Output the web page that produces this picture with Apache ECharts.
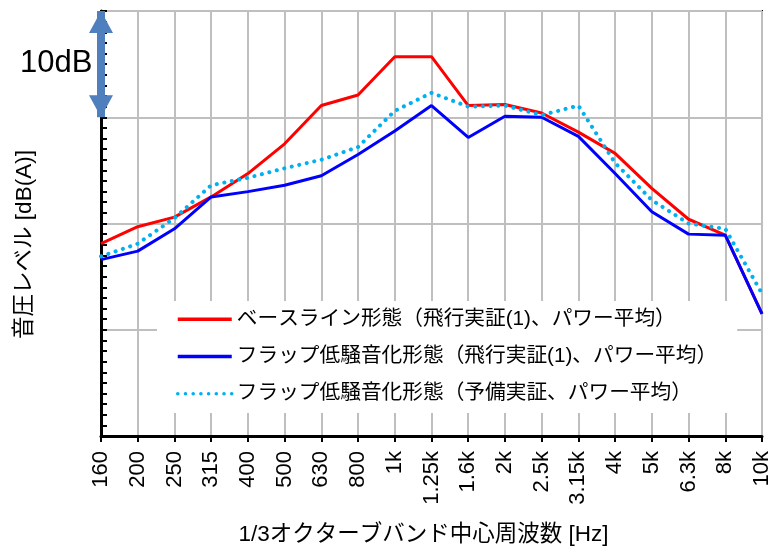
<!DOCTYPE html>
<html>
<head>
<meta charset="utf-8">
<script src="https://cdn.jsdelivr.net/npm/echarts@6/dist/echarts.min.js"></script>
<style>
  html, body { margin: 0; padding: 0; background: #fff; }
  #chart { width: 769px; height: 547px; }
</style>
</head>
<body>
<div id="chart"></div>
<script>
// 1/3オクターブバンド中心周波数
const bands = ['160', '200', '250', '315', '400', '500', '630', '800', '1k', '1.25k',
  '1.6k', '2k', '2.5k', '3.15k', '4k', '5k', '6.3k', '8k', '10k']
// 相対値 (1目盛 = 1dB)
const baseline = [18.1, 19.7, 20.6, 22.5, 24.7, 27.5, 31.1, 32.1, 35.7, 35.7,
  31.1, 31.2, 30.4, 28.6, 26.6, 23.3, 20.4, 18.9, 11.5]
const flapFlight = [16.6, 17.4, 19.5, 22.5, 23.0, 23.6, 24.5, 26.5, 28.7, 31.1,
  28.1, 30.1, 30.0, 28.2, 24.7, 21.1, 19.0, 18.9, 11.5]
const flapPre = [16.9, 18.1, 20.5, 23.6, 24.3, 25.2, 26.0, 27.2, 30.6, 32.3,
  31.0, 31.1, 30.2, 31.1, 25.7, 22.2, 20.0, 19.5, 13.4]
const seriesNames = [
  'ベースライン形態（飛行実証(1)、パワー平均）',
  'フラップ低騒音化形態（飛行実証(1)、パワー平均）',
  'フラップ低騒音化形態（予備実証、パワー平均）'
]

const fontJa = '"Liberation Sans", "Noto Sans CJK JP", sans-serif'
const chart = echarts.init(document.getElementById('chart'))

const option = {
  animation: false,
  textStyle: { fontFamily: fontJa, color: '#000' },
  grid: {
    left: 101, right: 7, top: 11, bottom: 111,
    outerBoundsMode: 'none',
    containLabel: false,
    show: true, borderColor: '#000', borderWidth: 2, backgroundColor: 'transparent'
  },
  legend: {
    orient: 'vertical',
    left: 157,
    top: 301,
    backgroundColor: '#fff',
    padding: [8, 20, 9, 19],
    itemWidth: 54,
    itemHeight: 2, // 凡例の丸を目立たなくする
    itemGap: 16.5,
    itemStyle: { opacity: 0 },
    lineStyle: { width: 3.5 },
    textStyle: { fontSize: 20.7, lineHeight: 20, color: '#000', fontFamily: fontJa },
    data: seriesNames
  },
  xAxis: {
    type: 'category',
    data: bands,
    boundaryGap: false,
    name: '1/3オクターブバンド中心周波数 [Hz]',
    nameLocation: 'middle',
    nameGap: 88,
    nameTextStyle: { fontSize: 22.5, color: '#000', padding: [0, 16, 0, 0] },
    axisLine: { lineStyle: { color: '#000', width: 3 } },
    axisTick: { show: true, length: 6, lineStyle: { color: '#000', width: 2 } },
    axisLabel: { rotate: 90, fontSize: 22, margin: 15, color: '#000', fontFamily: 'Liberation Sans' },
    splitLine: { show: true, lineStyle: { color: '#bfbfbf', width: 2 } }
  },
  yAxis: {
    type: 'value',
    min: 0,
    max: 40,
    interval: 10,
    name: '音圧レベル [dB(A)]',
    nameLocation: 'middle',
    nameGap: 65,
    nameTextStyle: { fontSize: 22.5, color: '#000', padding: [0, 42, 0, 0] },
    axisLine: { show: true, lineStyle: { color: '#000', width: 3 } },
    axisTick: { show: true, inside: true, length: 6, lineStyle: { color: '#000', width: 2 } },
    minorTick: { show: true, splitNumber: 10, length: 6, lineStyle: { color: '#000', width: 2 } },
    axisLabel: { show: false },
    splitLine: { show: true, lineStyle: { color: '#bfbfbf', width: 2 } }
  },
  graphic: [{
    type: 'text',
    left: 20,
    top: 48,
    style: { text: '10dB', font: '31px "Liberation Sans"', fill: '#000' }
  }],
  series: [
    {
      name: seriesNames[0],
      type: 'line',
      data: baseline,
      symbol: 'none',
      clip: false,
      lineStyle: { color: '#ff0000', width: 3 },
      itemStyle: { color: '#ff0000' },
      markLine: {
        silent: true,
        symbol: ['triangle', 'triangle'],
        symbolSize: [24, 22],
        symbolOffset: [[0, 11], [0, 11]],
        label: { show: false },
        lineStyle: { color: '#4f7fbd', width: 8, type: 'solid' },
        itemStyle: { color: '#4f7fbd' },
        data: [[{ coord: [bands[0], 30] }, { coord: [bands[0], 40] }]]
      }
    },
    {
      name: seriesNames[1],
      type: 'line',
      data: flapFlight,
      symbol: 'none',
      lineStyle: { color: '#0000ff', width: 3 },
      itemStyle: { color: '#0000ff' }
    },
    {
      name: seriesNames[2],
      type: 'line',
      data: flapPre,
      symbol: 'none',
      lineStyle: { color: '#00b0f0', width: 4, type: [0.1, 7.6], cap: 'round' },
      itemStyle: { color: '#00b0f0' }
    }
  ]
}
chart.setOption(option)
</script>
</body>
</html>
